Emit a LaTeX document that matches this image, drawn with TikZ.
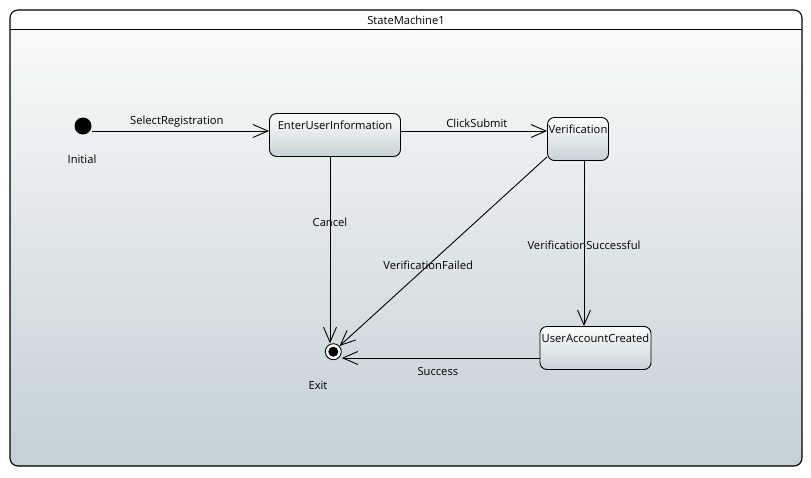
\documentclass[tikz,border=0pt]{standalone}
\usepackage{fontspec}
\setmainfont{Open Sans}
\usetikzlibrary{arrows.meta}
\definecolor{smtop}{HTML}{F9FAFA}
\definecolor{smbot}{HTML}{C3D0D5}
\definecolor{sttop}{HTML}{FCFDFD}
\definecolor{stbot}{HTML}{C8D4D8}

\begin{document}
\begin{tikzpicture}[x=1pt, y=-1pt, font=\fontsize{11.2}{13}\selectfont,
	state/.style={draw, line width=0.9pt, rounded corners=7pt, top color=sttop, bottom color=stbot, inner xsep=0pt, inner ysep=4pt, text height=12pt, text depth=23pt, minimum height=43pt},
	initial/.style={circle, fill=black, inner sep=0pt, minimum size=17pt},
	final/.style={circle, draw, line width=0.9pt, fill=white, inner sep=0pt, minimum size=16pt, path picture={\fill[black] (path picture bounding box.center) circle (5pt);}},
	trans/.style={line width=0.9pt, -{Straight Barb[length=15pt, width=13pt]}}]
	\useasboundingbox (0,0) rectangle (811,477);
	\begin{scope}
	  \clip[rounded corners=8pt] (10,10) rectangle (802,466);
	  \fill[white] (10,10) rectangle (802,29);
	  \shade[top color=smtop, bottom color=smbot] (10,29) rectangle (802,466);
	\end{scope}
	\draw[line width=1.1pt, rounded corners=8pt] (10,10) rectangle (802,466);
	\draw[line width=1pt] (10,29) -- (802,29);
	\node (title) at (406,20) {StateMachine1};
	\node[initial] (ini) at (83,126) {};
	\node (inilbl) at (82,159) {Initial};
	\node[state, minimum width=131pt] (eui) at (335,135) {EnterUserInformation};
	\node[state, minimum width=61pt] (ver) at (578,139) {Verification};
	\node[state, minimum width=111pt] (uac) at (595.5,348) {UserAccountCreated};
	\node[final] (exit) at (333.3,351.7) {};
	\node (exitlbl) at (318,385) {Exit};
	\draw[trans] ([yshift=-5pt]ini.east) -- ([yshift=-5pt]ini.east -| eui.west) node[pos=0.48, above] {SelectRegistration};
	\draw[trans] ([yshift=4pt]eui.east) -- ([yshift=4pt]eui.east -| ver.west) node[pos=0.52, above] {ClickSubmit};
	\draw[trans] ([xshift=-5pt]eui.south) -- ([xshift=-5pt]eui.south |- exit.north) node[pos=0.35] {Cancel};
	\draw[trans] (ver.-150) -- (exit) node[pos=0.573] {VerificationFailed};
	\draw[trans] ([xshift=6pt]ver.south) -- ([xshift=6pt]ver.south |- uac.north) node[pos=0.51] {VerificationSuccessful};
	\draw[trans] ([yshift=-10pt]uac.west) -- ([yshift=-10pt]uac.west -| exit.east) node[pos=0.514, below=6pt] {Success};
\end{tikzpicture}
\end{document}
